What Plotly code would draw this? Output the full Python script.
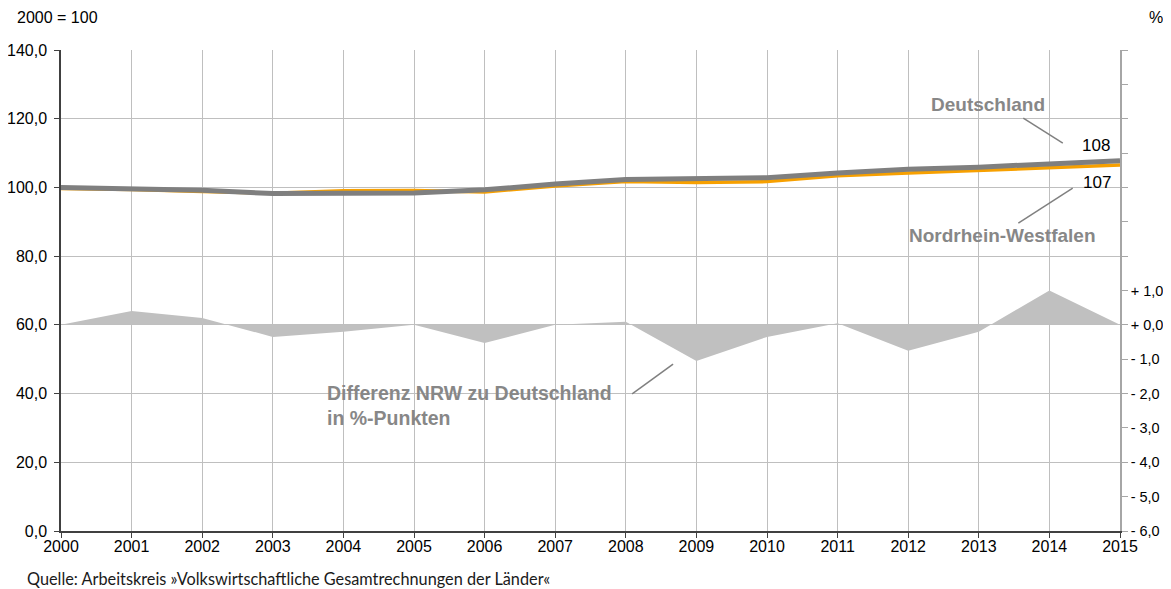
import plotly.graph_objects as go

years = list(range(2000, 2016))
deutschland = [100.0, 99.7, 99.2, 98.2, 98.4, 98.4, 99.3, 101.0, 102.3, 102.5, 102.8, 104.2, 105.3, 105.9, 106.8, 107.8]
nrw = [99.7, 99.4, 98.8, 98.3, 99.0, 99.1, 98.7, 100.4, 101.7, 101.4, 101.7, 103.4, 104.2, 104.9, 105.7, 106.5]
differenz = [0.0, 0.4, 0.2, -0.35, -0.2, 0.0, -0.53, 0.0, 0.09, -1.05, -0.35, 0.05, -0.75, -0.2, 1.0, 0.0]

left_ticks = [0, 20, 40, 60, 80, 100, 120, 140]
left_labels = ["0,0", "20,0", "40,0", "60,0", "80,0", "100,0", "120,0", "140,0"]
right_ticks = list(range(-6, 9))
right_labels = ["- 6,0", "- 5,0", "- 4,0", "- 3,0", "- 2,0", "- 1,0", "+ 0,0", "+ 1,0"] + [""] * 7

FONT = "Liberation Sans, Arial, sans-serif"
GRID = "#bfbfbf"
GRAY_TXT = "#878787"
LEADER = "#808080"

fig = go.Figure()
fig.add_trace(go.Scatter(x=years, y=differenz, yaxis="y2", mode="lines",
                         fill="tozeroy", fillcolor="#c0c0c0",
                         line=dict(width=0, color="#c0c0c0"), hoverinfo="skip"))
fig.add_trace(go.Scatter(x=years, y=nrw, mode="lines",
                         line=dict(color="#f7a000", width=3.5), hoverinfo="skip"))
fig.add_trace(go.Scatter(x=years, y=deutschland, mode="lines",
                         line=dict(color="#7f7f7f", width=5), hoverinfo="skip"))

fig.update_layout(
    width=1155, height=581,
    margin=dict(l=53, r=43, t=42, b=58),
    paper_bgcolor="white", plot_bgcolor="white",
    showlegend=False,
    font=dict(family=FONT, size=16, color="black"),
    xaxis=dict(range=[2000, 2015], tickvals=years, ticktext=[str(y) for y in years],
               showgrid=True, gridcolor=GRID, gridwidth=1,
               showline=True, linecolor="#404040", linewidth=1.5,
               ticks="outside", ticklen=0, tickcolor="#404040",
               minor=dict(ticks="outside", ticklen=5, tickcolor="#404040",
                          tickvals=years, showgrid=False),
               tickfont=dict(size=16), zeroline=False, automargin=False),
    yaxis=dict(range=[0, 140], tickvals=left_ticks, ticktext=left_labels,
               showgrid=True, gridcolor=GRID, gridwidth=1,
               showline=True, linecolor="#404040", linewidth=1.5,
               ticks="outside", ticklen=5, tickcolor="#404040",
               ticklabelstandoff=4,
               tickfont=dict(size=16), zeroline=False, automargin=False),
    yaxis2=dict(range=[-6, 8], overlaying="y", side="right",
                tickvals=right_ticks, ticktext=right_labels,
                showgrid=False, showline=True, linecolor="#a6a6a6", linewidth=1.5,
                ticks="outside", ticklen=6, tickcolor="#a6a6a6",
                ticklabelstandoff=0,
                tickfont=dict(size=14.5), zeroline=False, automargin=False),
)

ann = [
    dict(x=0, y=1.0, xref="paper", yref="paper", text="2000 = 100", showarrow=False,
         xanchor="left", yanchor="middle", xshift=-46, yshift=33, font=dict(size=16)),
    dict(x=1, y=1.0, xref="paper", yref="paper", text="%", showarrow=False,
         xanchor="left", yanchor="middle", xshift=27, yshift=33, font=dict(size=16)),
    dict(x=2013.13, y=124.0, text="<b>Deutschland</b>", showarrow=False,
         xanchor="center", yanchor="middle", font=dict(size=19, color=GRAY_TXT)),
    dict(x=2013.34, y=86.1, text="<b>Nordrhein-Westfalen</b>", showarrow=False,
         xanchor="center", yanchor="middle", font=dict(size=19, color=GRAY_TXT)),
    dict(x=2014.66, y=112.3, text="108", showarrow=False,
         xanchor="center", yanchor="middle", font=dict(size=17)),
    dict(x=2014.67, y=101.3, text="107", showarrow=False,
         xanchor="center", yanchor="middle", font=dict(size=17)),
    dict(x=2003.74, y=36.4, text="<b>Differenz NRW zu Deutschland<br>in %-Punkten</b>",
         showarrow=False, xanchor="left", yanchor="middle", align="left",
         font=dict(size=19.5, color=GRAY_TXT)),
    dict(x=0, y=0, xref="paper", yref="paper",
         text="Quelle: Arbeitskreis »Volkswirtschaftliche Gesamtrechnungen der Länder«",
         showarrow=False, xanchor="left", yanchor="middle", xshift=-36, yshift=-47,
         font=dict(size=16.3, family="Lato, sans-serif", color="#1a1a1a")),
]
fig.update_layout(annotations=ann)

shapes = [
    dict(type="line", x0=2013.63, y0=120.2, x1=2014.19, y1=112.9,
         line=dict(color=LEADER, width=1.5)),
    dict(type="line", x0=2013.56, y0=89.6, x1=2014.33, y1=99.8,
         line=dict(color=LEADER, width=1.5)),
    dict(type="line", x0=2008.09, y0=39.9, x1=2008.67, y1=48.6,
         line=dict(color=LEADER, width=1.5)),
]
fig.update_layout(shapes=shapes)

fig.write_html("out.html")
